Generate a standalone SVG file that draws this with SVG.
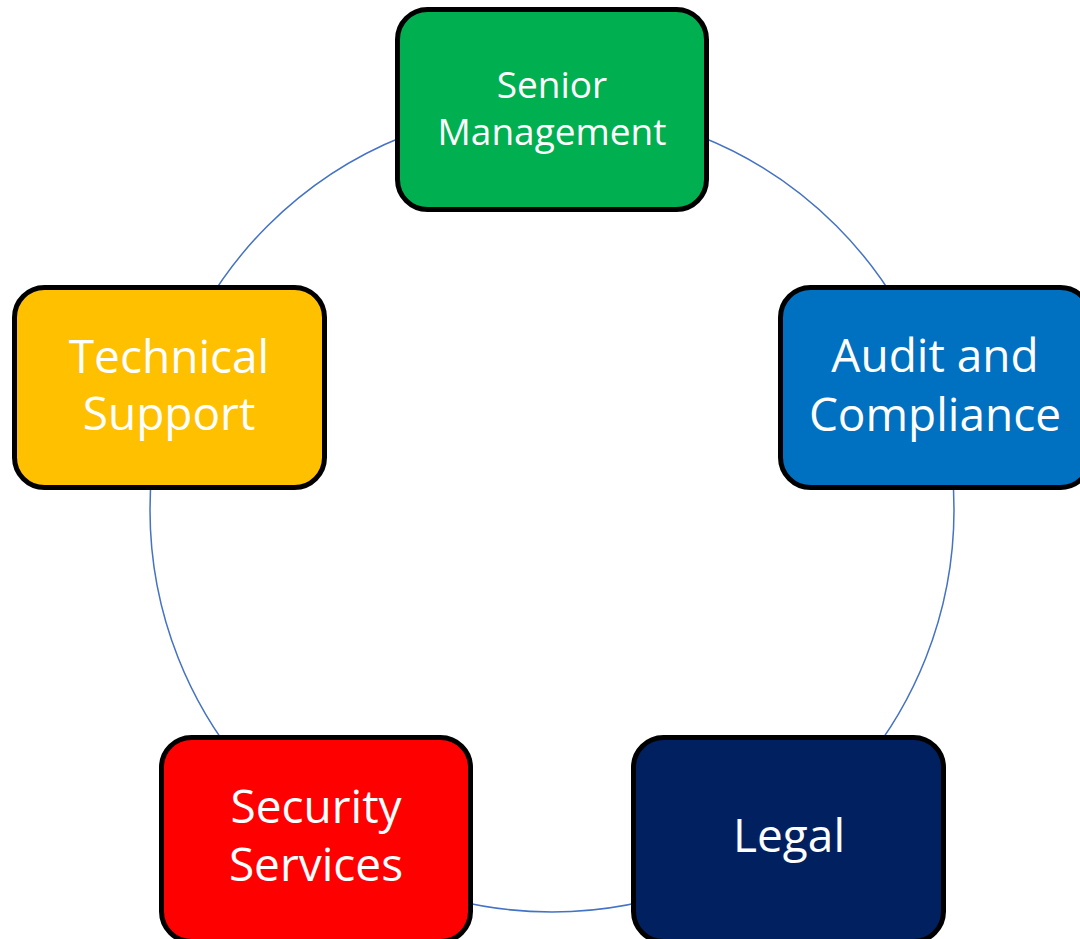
<svg xmlns="http://www.w3.org/2000/svg" width="1080" height="939" viewBox="0 0 1080 939">
<style>
.box{stroke:#000;stroke-width:5}
.lbl{font-family:"Open Sans","Liberation Sans",sans-serif;fill:#fff;text-anchor:middle}
</style>
<rect width="1080" height="939" fill="#fff"/>
<g id="connectors">
<circle cx="552" cy="510" r="402" fill="none" stroke="#4472C4" stroke-width="1.5"/>
</g>
<g id="senior-management">
<rect class="box" x="397.5" y="9.5" width="309" height="200" rx="30" fill="#00B050"/>
<text class="lbl" x="552" y="98" font-size="37">Senior</text>
<text class="lbl" x="552" y="145" font-size="37">Management</text>
</g>
<g id="audit-compliance">
<rect class="box" x="780.5" y="287.5" width="310" height="200" rx="30" fill="#0070C0"/>
<text class="lbl" x="935" y="372" font-size="46">Audit and</text>
<text class="lbl" x="935" y="431" font-size="46">Compliance</text>
</g>
<g id="technical-support">
<rect class="box" x="14.5" y="287.5" width="310" height="200" rx="30" fill="#FFC000"/>
<text class="lbl" x="169" y="373" font-size="46">Technical</text>
<text class="lbl" x="169" y="430" font-size="46">Support</text>
</g>
<g id="security-services">
<rect class="box" x="161.5" y="737.5" width="309" height="204" rx="30" fill="#FF0000"/>
<text class="lbl" x="316" y="823" font-size="46">Security</text>
<text class="lbl" x="316" y="881" font-size="46">Services</text>
</g>
<g id="legal">
<rect class="box" x="633.5" y="737.5" width="310" height="204" rx="30" fill="#002060"/>
<text class="lbl" x="789" y="852" font-size="46">Legal</text>
</g>
</svg>
